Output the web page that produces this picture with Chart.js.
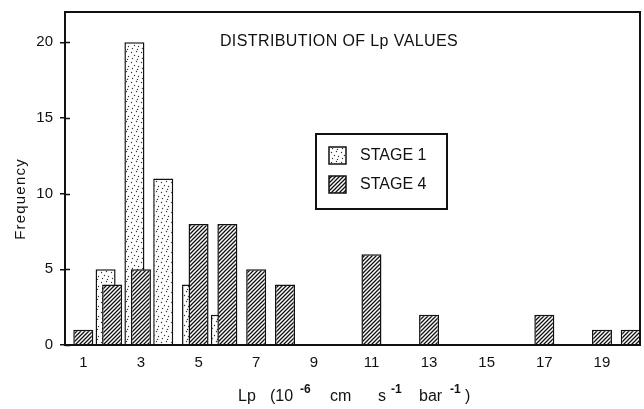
<!DOCTYPE html>
<html><head><meta charset="utf-8">
<script src="https://cdn.jsdelivr.net/npm/chart.js@4/dist/chart.umd.min.js"></script>
<style>html,body{margin:0;padding:0;background:#fff}#wrap{width:644px;height:409px}</style>
</head><body><div id="wrap"><canvas id="c" width="644" height="409"></canvas></div>
<script>
// ---- data ----
const binCentres   = [1,2,3,4,5,6,7,8,9,10,11,12,13,14,15,16,17,18,19,20];
const stage1Counts = [0,5,20,11,4,2,0,0,0,0,0,0,0,0,0,0,0,0,0,0];
const stage4Counts = [1,4,5,0,8,8,5,4,0,0,6,0,2,0,0,0,2,0,1,1];
const seriesNames  = ['STAGE 1','STAGE 4'];
const xTickLabels  = [1,3,5,7,9,11,13,15,17,19];
const yTickValues  = [0,5,10,15,20];
const chartTitle   = 'DISTRIBUTION OF Lp VALUES';
const yAxisTitle   = 'Frequency';
const xAxisTitleParts = [['Lp',false],['(10',false],['-6',true],['cm',false],['s',false],['-1',true],['bar',false],['-1',true],[')',false]];

// ---- styles ----
const FONT = '"Liberation Sans", Arial, sans-serif';
const INK = '#111';
const xTitleOffsets = [0,32,62,92,140,153,181,212,227];
const xTitleStart = 238, xTitleBaseline = 401;
const X_MIN = 0.365, X_MAX = 20.32, STAGE1_SHIFT = 0.226;

function makeHatch(){
  const c = document.createElement('canvas'); c.width = 4; c.height = 4;
  const g = c.getContext('2d');
  g.fillStyle = '#fff'; g.fillRect(0,0,4,4);
  g.strokeStyle = INK; g.lineWidth = 1.3;
  g.beginPath();
  g.moveTo(-1,5); g.lineTo(5,-1);
  g.moveTo(-3,3); g.lineTo(3,-3);
  g.moveTo(1,7); g.lineTo(7,1);
  g.stroke();
  return g.createPattern(c,'repeat');
}
function makeStipple(){
  const c = document.createElement('canvas'); c.width = 10; c.height = 10;
  const g = c.getContext('2d');
  g.fillStyle = '#fff'; g.fillRect(0,0,10,10);
  g.fillStyle = '#333';
  [[1,2],[6,1],[4,5],[8,6],[2,8],[7,9]].forEach(p=>{g.beginPath(); g.arc(p[0]+0.5,p[1]+0.5,0.7,0,Math.PI*2); g.fill();});
  return g.createPattern(c,'repeat');
}
const stipple = makeStipple();
const hatch = makeHatch();

const toPoints = counts => binCentres.map((x,i)=>({x, y: counts[i]})).filter(p=>p.y>0);

const decor = {
  id: 'decor',
  afterDraw(chart){
    const ctx = chart.ctx, a = chart.chartArea, ys = chart.scales.y;
    ctx.save();
    // frame
    ctx.strokeStyle = INK; ctx.lineWidth = 2;
    ctx.strokeRect(a.left, a.top, a.right - a.left, a.bottom - a.top);
    // inner tick marks
    ctx.lineWidth = 1.5;
    yTickValues.forEach(v=>{
      const y = Math.round(ys.getPixelForValue(v)) + 0.5;
      ctx.beginPath(); ctx.moveTo(a.left, y); ctx.lineTo(a.left + 5, y); ctx.stroke();
    });
    // title
    ctx.fillStyle = INK;
    ctx.font = '16px ' + FONT;
    ctx.letterSpacing = '0.4px';
    ctx.textAlign = 'center'; ctx.textBaseline = 'middle';
    ctx.fillText(chartTitle, 339, 42);
    ctx.letterSpacing = '0px';
    // legend
    ctx.lineWidth = 2;
    ctx.strokeRect(316, 134, 131, 75);
    const fills = [stipple, hatch];
    const rows = [155, 184];
    ctx.textAlign = 'left';
    ctx.font = '16px ' + FONT;
    seriesNames.forEach((n,i)=>{
      ctx.fillStyle = fills[i];
      ctx.fillRect(329, rows[i]-8, 17, 17);
      ctx.lineWidth = 1.5; ctx.strokeStyle = INK;
      ctx.strokeRect(329, rows[i]-8, 17, 17);
      ctx.fillStyle = INK;
      ctx.fillText(n, 360, rows[i]+1);
    });
    // y axis title
    ctx.save();
    ctx.translate(21, 199); ctx.rotate(-Math.PI/2);
    ctx.font = '15px ' + FONT; ctx.letterSpacing = '1.2px';
    ctx.textAlign = 'center'; ctx.textBaseline = 'middle';
    ctx.fillText(yAxisTitle, 0, 0);
    ctx.restore();
    // x axis title with superscripts
    ctx.textBaseline = 'alphabetic'; ctx.textAlign = 'left';
    xAxisTitleParts.forEach((p,i)=>{
      if (p[1]) { ctx.font = 'bold 12px ' + FONT; ctx.fillText(p[0], xTitleStart + xTitleOffsets[i], xTitleBaseline - 8); }
      else { ctx.font = '16px ' + FONT; ctx.fillText(p[0], xTitleStart + xTitleOffsets[i], xTitleBaseline); }
    });
    ctx.restore();
  }
};

const barStyle = { borderColor: INK, borderWidth: 1.5, grouped: false, categoryPercentage: 1, barPercentage: 0.695 };
const noPad = s => { s.paddingTop = 0; s.paddingBottom = 0; s.paddingLeft = 0; s.paddingRight = 0; };

new Chart(document.getElementById('c'), {
  type: 'bar',
  data: {
    datasets: [
      Object.assign({ label: seriesNames[0], data: toPoints(stage1Counts), xAxisID: 'x2', yAxisID: 'y',
        backgroundColor: stipple, order: 2 }, barStyle),
      Object.assign({ label: seriesNames[1], data: toPoints(stage4Counts), xAxisID: 'x', yAxisID: 'y',
        backgroundColor: hatch, order: 1 }, barStyle)
    ]
  },
  options: {
    responsive: false, animation: false, devicePixelRatio: 1,
    layout: { padding: { left: 0, right: 4, top: 12, bottom: 0 } },
    plugins: { legend: { display: false }, tooltip: { enabled: false }, title: { display: false } },
    scales: {
      x: {
        type: 'linear', position: 'bottom', min: X_MIN, max: X_MAX, offset: false,
        grid: { display: false, drawTicks: false }, border: { display: false },
        ticks: { font: { family: FONT, size: 15 }, color: INK, padding: 9, autoSkip: false, maxRotation: 0 },
        afterBuildTicks: s => { s.ticks = xTickLabels.map(v => ({ value: v })); },
        afterFit: s => { s.height = 64; noPad(s); }
      },
      x2: {
        type: 'linear', position: 'bottom', display: false,
        min: X_MIN + STAGE1_SHIFT, max: X_MAX + STAGE1_SHIFT, offset: false,
        afterBuildTicks: s => { s.ticks = xTickLabels.map(v => ({ value: v })); },
        afterFit: s => { noPad(s); }
      },
      y: {
        type: 'linear', min: 0, max: 22,
        grid: { drawOnChartArea: false, drawTicks: true, tickLength: 5, color: INK, lineWidth: 1.5 },
        border: { display: false },
        ticks: { font: { family: FONT, size: 15 }, color: INK, padding: 7 },
        afterBuildTicks: s => { s.ticks = yTickValues.map(v => ({ value: v })); },
        afterFit: s => { s.width = 65; noPad(s); }
      }
    }
  },
  plugins: [decor]
});
</script>
</body></html>
